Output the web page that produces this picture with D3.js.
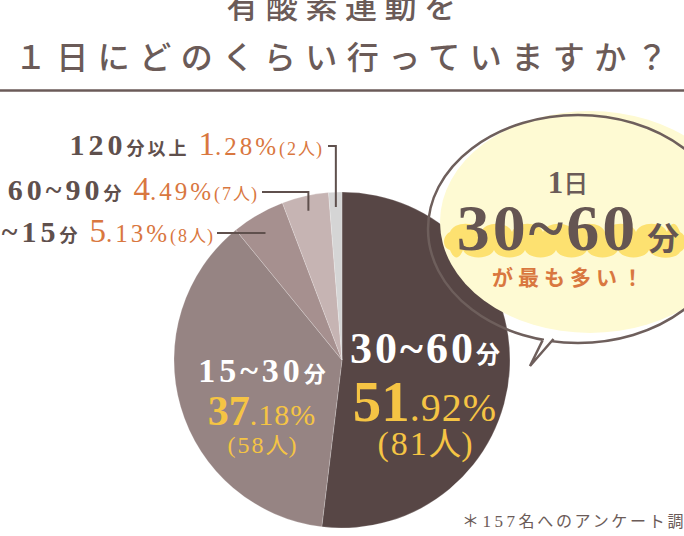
<!DOCTYPE html>
<html><head><meta charset="utf-8">
<script src="https://cdn.jsdelivr.net/npm/d3@7"></script>
<style>html,body{margin:0;padding:0;background:#fff;overflow:hidden}</style>
</head><body>
<svg id="c" width="684" height="536"></svg>
<script>
// ---- data ----
const titleLines = ["有酸素運動を", "１日にどのくらい行っていますか？"];
const categories = ["30~60分", "15~30分", "0~15分", "60~90分", "120分以上"];
const percents = [51.92, 37.18, 5.13, 4.49, 1.28];
const counts = [81, 58, 8, 7, 2];
const sliceColors = ["#574645", "#968483", "#a6908f", "#c6b4b3", "#d5d5d5"];
const bubbleLines = ["1日", "30~60分", "が最も多い！"];
const footnote = ["＊157", "名へのアンケート調査"];

// ---- styles ----
const SERIF = "'Liberation Serif','Noto Sans CJK JP',serif";
const JP = "'Noto Sans CJK JP','Noto Sans',sans-serif";
const DARK = "#5f504d", TITLE = "#6b5b58", ORANGE = "#d9773f", YEL = "#f5c444";

const svg = d3.select("#c");

// ---- title ----
svg.append("text").attr("x", 345).attr("y", 18).attr("text-anchor", "middle")
  .attr("font-family", JP).attr("font-size", 32).attr("font-weight", 500)
  .attr("letter-spacing", 7.5).attr("fill", TITLE).text(titleLines[0]);
svg.append("text").attr("x", 346).attr("y", 69).attr("text-anchor", "middle")
  .attr("font-family", JP).attr("font-size", 32).attr("font-weight", 500)
  .attr("letter-spacing", 9.5).attr("fill", TITLE).text(titleLines[1]);
svg.append("line").attr("x1", 0).attr("x2", 684).attr("y1", 90.5).attr("y2", 90.5)
  .attr("stroke", TITLE).attr("stroke-width", 2.5);

// ---- pie ----
const cx = 342, cy = 360, R = 168;
const data = categories.map((c, i) => ({ c, p: percents[i], n: counts[i], color: sliceColors[i] }));
const arcs = d3.pie().sort(null).value(d => d.p)(data);
const arc = d3.arc().innerRadius(0).outerRadius(R);
const g = svg.append("g").attr("transform", `translate(${cx},${cy})`);
g.selectAll("path").data(arcs).join("path")
  .attr("d", arc).attr("fill", d => d.data.color)
  .attr("stroke", "#ffffff").attr("stroke-width", 0.6).attr("stroke-opacity", 0.35);

function splitCat(s) { const m = s.match(/^([\d~]+)(.*)$/); return [m[1], m[2]]; }
function splitPct(p) { const s = p.toFixed(2); const k = s.indexOf("."); return [s.slice(0, k), s.slice(k) + "%"]; }

function addRuns(sel, runs) {
  runs.forEach(r => {
    const t = sel.append("tspan").text(r.t)
      .attr("font-size", r.size).attr("fill", r.fill)
      .attr("font-family", r.ff || SERIF)
      .attr("font-weight", r.w || "normal")
      .attr("letter-spacing", r.ls != null ? r.ls : 0);
    if (r.dx) t.attr("dx", r.dx);
  });
}

// inner labels
const innerLayout = [
  { x: 425, y: [363, 421, 455], num: 44, suf: 24, pInt: 57, pDec: 40, cnt: 34, ls: 3 },
  { x: 262, y: [382, 425, 453], num: 34, suf: 22, pInt: 42, pDec: 30, cnt: 24, ls: 4 }
];
innerLayout.forEach((L, i) => {
  const d = data[i];
  const [num, suf] = splitCat(d.c);
  const [pi, pd] = splitPct(d.p);
  const t1 = svg.append("text").attr("x", L.x).attr("y", L.y[0]).attr("text-anchor", "middle");
  addRuns(t1, [{ t: num, size: L.num, fill: "#fff", w: "bold", ls: L.ls }, { t: suf, size: L.suf, fill: "#fff", ff: JP, w: "bold" }]);
  const t2 = svg.append("text").attr("x", L.x).attr("y", L.y[1]).attr("text-anchor", "middle");
  addRuns(t2, [{ t: pi, size: L.pInt, fill: YEL, w: "bold", ls: 0 }, { t: pd, size: L.pDec, fill: YEL, ls: 1 }]);
  const t3 = svg.append("text").attr("x", L.x).attr("y", L.y[2]).attr("text-anchor", "middle");
  addRuns(t3, [{ t: "(" + d.n, size: L.cnt, fill: YEL, ls: 2 }, { t: "人", size: L.cnt * 0.95, fill: YEL, ff: JP }, { t: ")", size: L.cnt, fill: YEL }]);
});

// outer labels with leader lines
const outerLayout = [
  { i: 2, endX: 213, y: 242, lineY: 233, lineX: 217, elbow: false },
  { i: 3, endX: 257, y: 200, lineY: 192, lineX: 262, elbow: true },
  { i: 4, endX: 322, y: 155, lineY: 146, lineX: 328, elbow: true }
];
const anchorArc = d3.arc().innerRadius(153).outerRadius(153);
outerLayout.forEach(L => {
  const d = data[L.i];
  const a = arcs[L.i];
  const [num, suf] = splitCat(d.c);
  const [pi, pd] = splitPct(d.p);
  const t = svg.append("text").attr("x", L.endX).attr("y", L.y).attr("text-anchor", "end");
  addRuns(t, [
    { t: num, size: 30, fill: DARK, w: "bold", ls: 4 },
    { t: suf, size: 18, fill: DARK, ff: JP, w: "bold", ls: 3 },
    { t: pi, size: 33, fill: ORANGE, dx: 9 },
    { t: pd, size: 25, fill: ORANGE, ls: 3 },
    { t: "(" + d.n, size: 18, fill: ORANGE, ls: 2 },
    { t: "人", size: 17, fill: ORANGE, ff: JP, ls: 1 },
    { t: ")", size: 18, fill: ORANGE }
  ]);
  const [px, py] = anchorArc.centroid(a);
  const ax = cx + px, ay = cy + py;
  const p = d3.path();
  p.moveTo(L.lineX, L.lineY);
  p.lineTo(ax, L.lineY);
  if (L.elbow) p.lineTo(ax, Math.max(ay, L.lineY));
  svg.append("path").attr("d", p.toString()).attr("fill", "none")
    .attr("stroke", "#5f504d").attr("stroke-width", 2);
});

// ---- speech bubble ----
const bub = svg.append("g");
bub.append("ellipse").attr("cx", 590).attr("cy", 222).attr("rx", 150).attr("ry", 111)
  .attr("fill", "#fefad3");
bub.append("ellipse").attr("cx", 578).attr("cy", 229).attr("rx", 150).attr("ry", 114)
  .attr("fill", "none").attr("stroke", "#6e5f5c").attr("stroke-width", 2.5);
// gap for tail
bub.append("rect").attr("x", 544).attr("y", 336).attr("width", 8).attr("height", 8).attr("fill", "#fff");
bub.append("path").attr("d", "M542.5,340.5 L530,366 L553.5,339")
  .attr("fill", "#fff").attr("stroke", "#6e5f5c").attr("stroke-width", 2.5).attr("stroke-linejoin", "miter");

// wavy highlight
(function () {
  const x0 = 450, x1 = 680, yTop = 228, yBot = 252, amp = 5, per = 31;
  const p = d3.path();
  p.moveTo(x0, yTop + 4);
  let x = x0;
  while (x < x1) {
    const nx = Math.min(x + per, x1);
    p.bezierCurveTo(x + 4, yTop - amp * 1.4, nx - 4, yTop - amp * 1.4, nx, yTop + 4);
    x = nx;
  }
  p.bezierCurveTo(x1 + 8, yTop + 8, x1 + 8, yBot - 4, x1, yBot);
  while (x > x0) {
    const nx = Math.max(x - per, x0);
    p.bezierCurveTo(x - 4, yBot + amp * 1.6, nx + 4, yBot + amp * 1.6, nx, yBot - 2);
    x = nx;
  }
  p.bezierCurveTo(x0 - 8, yBot - 4, x0 - 8, yTop + 8, x0, yTop + 4);
  bub.append("path").attr("d", p.toString()).attr("fill", "#fde170");
})();

const b1 = bub.append("text").attr("x", 568).attr("y", 193).attr("text-anchor", "middle");
addRuns(b1, [{ t: bubbleLines[0].slice(0, 1), size: 31, fill: TITLE, w: "bold" }, { t: bubbleLines[0].slice(1), size: 25, fill: TITLE, ff: JP, w: 500 }]);
const [bn, bs] = splitCat(bubbleLines[1]);
const b2 = bub.append("text").attr("x", 568).attr("y", 250).attr("text-anchor", "middle");
addRuns(b2, [{ t: bn, size: 66, fill: "#655552", w: "bold", ls: 3 }, { t: bs, size: 32, fill: "#655552", ff: JP, w: "bold", dx: 9 }]);
bub.append("text").attr("x", 570).attr("y", 285).attr("text-anchor", "middle")
  .attr("font-family", JP).attr("font-size", 21).attr("font-weight", "bold")
  .attr("letter-spacing", 5).attr("fill", ORANGE).text(bubbleLines[2]);

// ---- footnote ----
const fn = svg.append("text").attr("x", 462).attr("y", 527);
addRuns(fn, [
  { t: footnote[0], size: 17, fill: TITLE, ls: 3.5 },
  { t: footnote[1], size: 16, fill: TITLE, ff: JP, ls: 2.7 }
]);
</script>
</body></html>
